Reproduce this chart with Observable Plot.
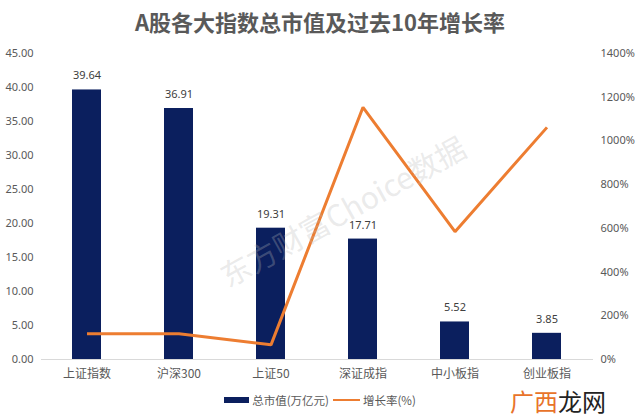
<!DOCTYPE html>
<html>
<head>
<meta charset="utf-8">
<script src="https://cdn.jsdelivr.net/npm/d3@7"></script>
<script src="https://cdn.jsdelivr.net/npm/@observablehq/plot@0.6"></script>
<style>
  body { margin: 0; background: #fff; font-family: "Noto Sans", "Noto Sans CJK SC", sans-serif; }
  #wrap { position: relative; width: 640px; height: 418px; overflow: hidden; }
  #title { height: 40px; line-height: 42px; text-align: center; font-size: 22px; font-weight: bold; color: #595959; font-family: "Noto Sans CJK SC", sans-serif; }
  #legend { display: flex; justify-content: center; align-items: center; font-size: 11.5px; color: #595959; height: 20px; margin-top: 0px; font-family: "Noto Sans CJK SC", sans-serif; }
  .sw-bar { width: 25px; height: 6px; background: #0B1F5E; margin-right: 3px; }
  .sw-line { width: 27px; height: 2.5px; background: #ED7D31; margin: 0 3px 0 4px; }
  #wm { position: absolute; left: 222px; top: 262px; font-size: 30px; line-height: 1; color: rgba(185,185,185,0.3); transform: rotate(-29deg); transform-origin: left center; white-space: nowrap; pointer-events: none; font-family: "Noto Sans CJK SC", sans-serif; }
  #logo { position: absolute; left: 510px; top: 389px; font-size: 24px; line-height: 24px; white-space: nowrap; font-family: "Noto Sans CJK SC", sans-serif; }
</style>
</head>
<body>
<div id="wrap">
  <div id="title">A股各大指数总市值及过去10年增长率</div>
  <div id="chart"></div>
  <div id="legend"><span class="sw-bar"></span><span>总市值(万亿元)</span><span class="sw-line"></span><span>增长率(%)</span></div>
  <div id="wm">东方财富Choice数据</div>
  <div id="logo"><span style="color:#E8732A">广西</span><span style="color:#222">龙网</span></div>
</div>
<script>
const categories = ["上证指数", "沪深300", "上证50", "深证成指", "中小板指", "创业板指"];
const marketCap = [39.64, 36.91, 19.31, 17.71, 5.52, 3.85];
const growthPct = [118, 118, 67, 1154, 585, 1062];
const leftTicks = [0, 5, 10, 15, 20, 25, 30, 35, 40, 45];
const rightTicks = [0, 200, 400, 600, 800, 1000, 1200, 1400];

const leftMax = 45, rightMax = 1400;
const k = leftMax / rightMax;
const data = categories.map((c, i) => ({cat: c, cap: marketCap[i], g: growthPct[i], gy: growthPct[i] * k}));

const chart = Plot.plot({
  width: 640,
  height: 350,
  marginTop: 13,
  marginBottom: 31,
  marginLeft: 41,
  marginRight: 47,
  style: {fontFamily: "'Noto Sans', 'Noto Sans CJK SC', sans-serif", fontSize: "11px", color: "#595959", background: "transparent"},
  x: {domain: categories, paddingInner: 0.68, paddingOuter: 0.34, label: null},
  y: {domain: [0, leftMax], label: null},
  marks: [
    Plot.barY(data, {x: "cat", y: "cap", fill: "#0B1F5E"}),
    Plot.ruleY([0], {stroke: "#d9d9d9", strokeWidth: 1}),
    Plot.text(data, {x: "cat", y: "cap", text: d => d.cap.toFixed(2), dy: -14, fill: "#404040", fontSize: 11}),
    Plot.line(data, {x: "cat", y: "gy", stroke: "#ED7D31", strokeWidth: 3, strokeLinejoin: "miter", strokeLinecap: "butt"}),
    Plot.axisX({tickSize: 0, tickPadding: 10, fontSize: 12, fill: "#595959", label: null, fontFamily: "'Noto Sans CJK SC', sans-serif"}),
    Plot.axisY(leftTicks, {anchor: "left", tickSize: 0, tickPadding: 8, tickFormat: d => d.toFixed(2), label: null, fill: "#595959"}),
    Plot.axisY(rightTicks.map(t => t * k), {anchor: "right", tickSize: 0, tickPadding: 7, tickFormat: d => Math.round(d / k) + "%", label: null, fill: "#595959"})
  ]
});
document.getElementById("chart").appendChild(chart);
</script>
</body>
</html>
